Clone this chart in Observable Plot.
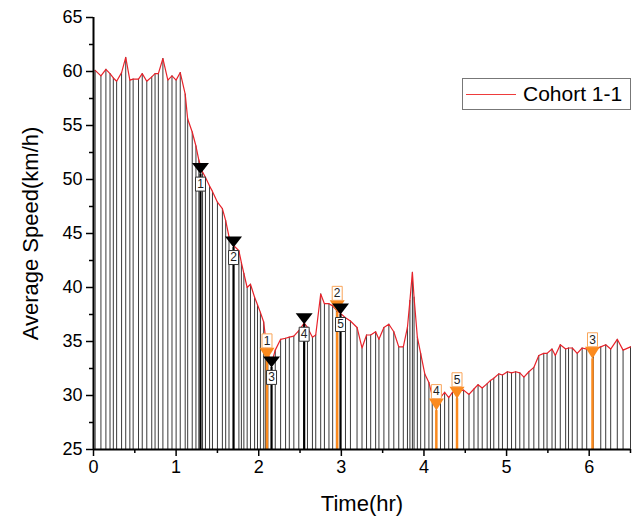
<!DOCTYPE html>
<html>
<head>
<meta charset="utf-8">
<script src="https://cdn.jsdelivr.net/npm/d3@7"></script>
<script src="https://cdn.jsdelivr.net/npm/@observablehq/plot@0.6"></script>
<style>
  body { margin: 0; background: #fff; }
  #wrap { position: relative; width: 641px; height: 517px; font-family: "Liberation Sans", Arial, sans-serif; }
  #legend { position: absolute; left: 462px; top: 78px; width: 167px; height: 30px; border: 1px solid #777; background: #fff; }
  #legend .sw { position: absolute; left: 3px; top: 15px; width: 50px; height: 0; border-top: 1.5px solid #ee3b3b; }
  #legend .lb { position: absolute; left: 60px; top: 2px; font-size: 21px; line-height: 26px; color: #000; white-space: nowrap; }
</style>
</head>
<body>
<div id="wrap"></div>
<script>
// Time (hr) of each sample and average speed (km/h)
const times = [0.02,0.09,0.15,0.20,0.24,0.28,0.34,0.39,0.44,0.48,0.545,0.59,0.645,0.705,0.745,0.785,0.84,0.90,0.95,1.00,
  1.05,1.11,1.14,1.195,1.24,1.275,1.32,1.355,1.405,1.44,1.50,1.56,1.60,1.64,1.695,1.76,1.79,1.82,1.86,1.90,
  1.95,1.985,2.02,2.06,2.08,2.11,2.155,2.20,2.265,2.325,2.37,2.425,2.485,2.55,2.59,2.65,2.69,2.75,2.795,2.85,
  2.895,2.94,2.99,3.05,3.11,3.19,3.25,3.305,3.355,3.415,3.455,3.515,3.575,3.635,3.695,3.75,3.80,3.83,3.86,3.88,
  3.92,3.96,4.01,4.06,4.10,4.15,4.20,4.25,4.30,4.345,4.40,4.48,4.545,4.605,4.655,4.705,4.765,4.805,4.845,4.905,
  4.95,5.01,5.06,5.11,5.16,5.21,5.27,5.33,5.39,5.45,5.49,5.55,5.59,5.65,5.715,5.75,5.795,5.855,5.915,5.97,
  6.05,6.14,6.20,6.26,6.34,6.41,6.50];
const speeds = [60.1,59.6,60.2,59.8,59.4,59.1,59.9,61.3,59.2,59.3,59.3,59.8,59.1,59.5,59.8,59.8,61.2,59.2,59.6,59.2,
  59.9,57.9,55.6,54.4,53.1,51.8,50.7,50.2,49.4,48.9,47.9,47.3,46.2,44.7,43.9,43.4,42.3,41.3,40.0,40.3,
  39.1,38.4,37.7,36.8,35.5,33.9,33.0,34.2,35.2,35.3,35.4,35.5,36.0,36.7,36.3,35.4,35.6,39.4,38.5,38.5,
  38.3,37.9,37.6,37.2,36.9,36.3,34.4,35.6,35.6,35.9,35.2,36.3,36.6,35.9,34.5,34.5,36.3,38.8,41.4,39.1,
  35.4,33.9,32.0,31.2,30.0,29.3,29.8,30.3,29.8,30.3,30.4,30.5,30.1,30.6,31.0,30.7,31.1,31.4,31.6,32.0,
  31.9,32.2,32.1,32.2,32.1,31.7,32.2,32.6,33.7,33.9,33.9,34.3,33.7,34.7,34.3,34.4,34.4,33.9,34.4,34.3,
  34.2,34.5,34.7,34.3,35.2,34.2,34.5];

// Black markers (numbered)
const blackTimes = [1.295, 1.695, 2.155, 2.55, 2.99];
const blackSpeeds = [50.5, 43.7, 32.6, 36.6, 37.5];
const blackLabels = ["1", "2", "3", "4", "5"];
// Orange markers (numbered)
const orangeTimes = [2.10, 2.95, 6.04, 4.15, 4.40];
const orangeSpeeds = [33.3, 37.7, 33.4, 28.6, 29.7];
const orangeLabels = ["1", "2", "3", "4", "5"];

const yMajor = [25, 30, 35, 40, 45, 50, 55, 60, 65];
const yMinor = [27.5, 32.5, 37.5, 42.5, 47.5, 52.5, 57.5, 62.5];
const xMajor = [0, 1, 2, 3, 4, 5, 6];
const xMinor = [0.5, 1.5, 2.5, 3.5, 4.5, 5.5, 6.5];

const series = times.map((t, i) => ({t, v: speeds[i]}));
const blacks = blackTimes.map((t, i) => ({t, v: blackSpeeds[i], n: blackLabels[i]}));
const oranges = orangeTimes.map((t, i) => ({t, v: orangeSpeeds[i], n: orangeLabels[i]}));

const ORANGE = "#fb8a1e";
const triBlack = {draw(ctx) { ctx.moveTo(-8.5, -11); ctx.lineTo(8.5, -11); ctx.lineTo(0, 0); ctx.closePath(); }};
const triOrange = {draw(ctx) { ctx.moveTo(-7.5, -12); ctx.lineTo(7.5, -12); ctx.lineTo(0, 0); ctx.closePath(); }};
const box = {draw(ctx) { ctx.rect(-5, -7, 10, 14); }};

const chart = Plot.plot({
  width: 641, height: 517,
  marginLeft: 93, marginRight: 11, marginTop: 17, marginBottom: 68,
  x: {domain: [0, 6.5]},
  y: {domain: [25, 65]},
  style: {fontFamily: "'Liberation Sans', Arial, sans-serif", background: "transparent", overflow: "visible"},
  marks: [
    Plot.ruleX(series, {x: "t", y1: 25, y2: "v", stroke: "#3a3a3a", strokeWidth: 1}),
    Plot.line(series, {x: "t", y: "v", stroke: "#e8222a", strokeWidth: 1.2}),
    Plot.ruleX(oranges, {x: "t", y1: 25, y2: "v", stroke: ORANGE, strokeWidth: 2.5}),
    Plot.ruleX(blacks, {x: "t", y1: 25, y2: "v", stroke: "#000", strokeWidth: 2.2}),
    Plot.dot(oranges, {x: "t", y: "v", symbol: triOrange, fill: ORANGE, stroke: "none"}),
    Plot.dot(blacks, {x: "t", y: "v", symbol: triBlack, fill: "#000", stroke: "none"}),
    Plot.dot(oranges, {x: "t", y: "v", symbol: box, fill: "#fff", stroke: "#f9a55a", strokeWidth: 1, dy: -19}),
    Plot.text(oranges, {x: "t", y: "v", text: "n", dy: -19, fontSize: 12, fill: "#222"}),
    Plot.dot(blacks, {x: "t", y: "v", symbol: box, fill: "#fff", stroke: "#333", strokeWidth: 1, dy: 10}),
    Plot.text(blacks, {x: "t", y: "v", text: "n", dy: 10, fontSize: 12, fill: "#222"}),
    Plot.axisY(yMajor, {tickSize: 7, tickPadding: 4, fontSize: 18, label: null, strokeWidth: 1.5, color: "#000"}),
    Plot.axisY(yMinor, {tickSize: 4, tickFormat: () => "", label: null, strokeWidth: 1.5}),
    Plot.axisX(xMajor, {tickSize: 7, tickPadding: 4, fontSize: 18, label: null, strokeWidth: 1.5, color: "#000"}),
    Plot.axisX(xMinor, {tickSize: 4, tickFormat: () => "", label: null, strokeWidth: 1.5}),
    Plot.ruleX([0], {stroke: "#000", strokeWidth: 2}),
    Plot.ruleY([25], {stroke: "#000", strokeWidth: 2}),
    Plot.text(["Average Speed(km/h)"], {frameAnchor: "left", rotate: -90, dx: -63, fontSize: 22, textAnchor: "middle", lineAnchor: "middle", fill: "#000"}),
    Plot.text(["Time(hr)"], {frameAnchor: "bottom", dy: 54, fontSize: 22, textAnchor: "middle", lineAnchor: "middle", fill: "#000"})
  ]
});

const wrap = document.getElementById("wrap");
wrap.appendChild(chart);
const legend = document.createElement("div");
legend.id = "legend";
legend.innerHTML = '<div class="sw"></div><div class="lb">Cohort 1-1</div>';
wrap.appendChild(legend);
</script>
</body>
</html>
